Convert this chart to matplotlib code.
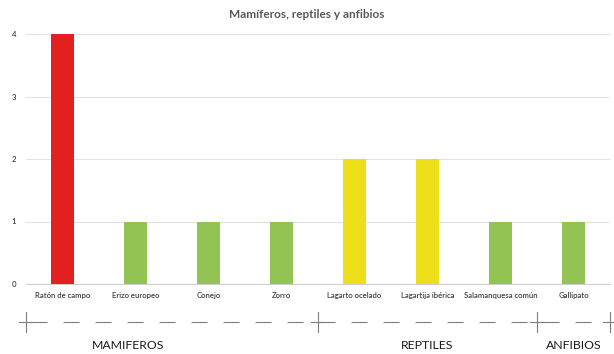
import matplotlib
matplotlib.use("Agg")
import matplotlib.pyplot as plt
from matplotlib.transforms import blended_transform_factory

# Species counts grouped by class
species = ["Ratón de campo", "Erizo europeo", "Conejo", "Zorro",
           "Lagarto ocelado", "Lagartija ibérica", "Salamanquesa común", "Gallipato"]
counts = [4, 1, 1, 1, 2, 2, 1, 1]
colors = ["#E3201F", "#92C353", "#92C353", "#92C353",
          "#EDE01B", "#EDE01B", "#92C353", "#92C353"]
groups = ["MAMIFEROS", "REPTILES", "ANFIBIOS"]
group_sizes = [4, 3, 1]
group_label_x = [0.9, 5.0, 7.0]
y_ticks = [0, 1, 2, 3, 4]

plt.rcParams["font.family"] = ["Lato", "DejaVu Sans"]

fig = plt.figure(figsize=(6.14, 3.54), dpi=100)
ax = fig.add_axes([26 / 614, 1 - 284 / 354, 584 / 614, 250 / 354])

x = list(range(len(species)))
ax.bar(x, counts, width=0.32, color=colors, zorder=3)

ax.set_xlim(-0.5, len(species) - 0.5)
ax.set_ylim(0, 4)
ax.set_yticks(y_ticks)
ax.set_xticks(x)
ax.set_xticklabels(species, fontsize=5.6, color="#404040", fontweight="semibold")
for lbl in ax.get_yticklabels():
    lbl.set_fontweight("semibold")
ax.tick_params(axis="y", labelsize=5.6, labelcolor="#404040", length=0, pad=7)
ax.tick_params(axis="x", length=0, pad=6)
ax.grid(axis="y", color="#E2E2E2", linewidth=0.8, zorder=0)
for side in ["top", "right", "left"]:
    ax.spines[side].set_visible(False)
ax.spines["bottom"].set_color("#D0D0D0")
ax.spines["bottom"].set_linewidth(0.8)

fig.text(0.5, 1 - 15 / 354, "Mamíferos, reptiles y anfibios", ha="center", va="center",
         fontsize=8.5, fontweight="bold", color="#595959")

# Group separator line with boundary ticks below the category labels
trans = blended_transform_factory(ax.transData, ax.transAxes)
line_y = -0.153
lo, hi = -0.5, len(species) - 0.5
ax.plot([lo, hi], [line_y, line_y], transform=trans, clip_on=False,
        color="#7F7F7F", linewidth=0.8,
        linestyle=(-4.6, (14.4, 14.4)))
bounds = [lo]
for n in group_sizes:
    bounds.append(bounds[-1] + n)
for b in bounds:
    ax.plot([b, b], [line_y - 0.04, line_y + 0.04], transform=trans, clip_on=False,
            color="#7F7F7F", linewidth=0.8)
    ax.plot([b - 0.1, b + 0.1], [line_y, line_y], transform=trans, clip_on=False,
            color="#7F7F7F", linewidth=0.8)

for name, gx in zip(groups, group_label_x):
    ax.text(gx, -0.245, name, transform=trans, ha="center", va="center",
            fontsize=8.8, color="#1A1A1A")

fig.savefig("out.png", dpi=100, facecolor="white")
